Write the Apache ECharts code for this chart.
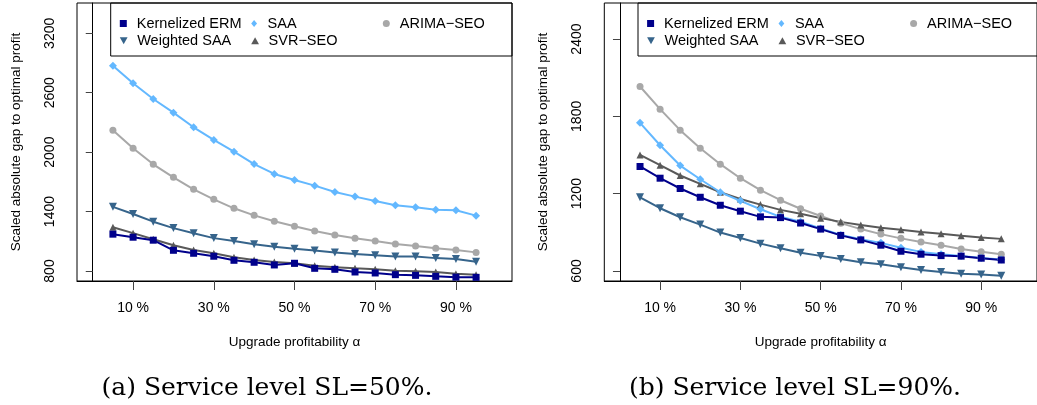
<!DOCTYPE html>
<html>
<head>
<meta charset="utf-8">
<script src="https://cdn.jsdelivr.net/npm/echarts@6/dist/echarts.min.js"></script>
<style>
html,body{margin:0;padding:0;background:#fff;}
#c{width:1037px;height:405px;}
</style>
</head>
<body>
<div id="c"></div>
<script>
// ---- data ----
const alphas = [5,10,15,20,25,30,35,40,45,50,55,60,65,70,75,80,85,90,95];
const xTicks = [10,30,50,70,90];

// Panel (a): Service level SL=50%
const kermA  = [1172,1141,1111,1009,979,949,908,888,861,878,827,817,790,780,763,756,746,738,736];
const saaA   = [2873,2695,2537,2399,2251,2123,2005,1880,1780,1719,1662,1598,1551,1507,1463,1443,1419,1413,1359];
const wsaaA  = [1448,1376,1298,1233,1181,1132,1102,1071,1046,1025,1006,987,972,958,947,947,930,922,893];
const svrA   = [1242,1182,1121,1060,1013,979,939,911,891,878,854,838,827,817,803,797,790,773,763];
const arimaA = [2220,2039,1877,1746,1625,1524,1433,1362,1302,1251,1204,1164,1130,1103,1073,1052,1029,1012,988];
const yTicksA = [800,1400,2000,2600,3200];

// Panel (b): Service level SL=90%
const kermB  = [1411,1320,1240,1172,1110,1064,1020,1014,972,925,876,841,800,753,730,719,715,699,685];
const saaB   = [1750,1576,1418,1312,1211,1144,1079,1020,982,930,880,847,818,780,748,730,717,701,689];
const wsaaB  = [1172,1087,1017,960,898,856,812,776,741,717,693,667,652,628,608,592,579,572,563];
const svrB   = [1501,1421,1341,1276,1211,1159,1115,1074,1044,1010,981,956,935,919,903,888,873,860,849];
const arimaB = [2032,1856,1693,1553,1429,1320,1227,1149,1083,1027,971,925,886,853,824,800,771,749,730];
const yTicksB = [600,1200,1800,2400];

const captionA = '(a) Service level SL=50%.';
const captionB = '(b) Service level SL=90%.';
const xName = 'Upgrade profitability \u03b1';
const yName = 'Scaled absolute gap to optimal profit';

// ---- styles ----
const FONT = "'Liberation Sans', Arial, Helvetica, sans-serif";
const downTri = 'path://M0,0 L10,0 L5,9 Z';
const styles = {
  'Kernelized ERM': {color:'#00008B', symbol:'rect', size:7, icon:'path://M0,0 L10,0 L10,10 L0,10 Z'},
  'SAA': {color:'#63B8FF', symbol:'diamond', size:8, icon:'path://M5,0 L10,6 L5,12 L0,6 Z'},
  'ARIMA\u2212SEO': {color:'#A8A8A8', symbol:'circle', size:7, icon:'path://M5,0 A5,5 0 1,1 5,10 A5,5 0 1,1 5,0 Z'},
  'Weighted SAA': {color:'#36648B', symbol:downTri, size:8, icon:downTri},
  'SVR\u2212SEO': {color:'#595959', symbol:'triangle', size:7, icon:'path://M5,0 L10,9 L0,9 Z'}
};

function pairs(vals){ return alphas.map((a,i)=>[a, vals[i]]); }

const panels = [
  {left:77, yMin:699, yMax:3506, yTicks:yTicksA, data:{'Kernelized ERM':kermA,'SAA':saaA,'ARIMA\u2212SEO':arimaA,'Weighted SAA':wsaaA,'SVR\u2212SEO':svrA}, caption:captionA, capX:267},
  {left:604.3, yMin:522, yMax:2680, yTicks:yTicksB, data:{'Kernelized ERM':kermB,'SAA':saaB,'ARIMA\u2212SEO':arimaB,'Weighted SAA':wsaaB,'SVR\u2212SEO':svrB}, caption:captionB, capX:795}
];

const grids=[], xAxes=[], yAxes=[], series=[], legends=[], graphics=[];
const drawOrder = ['ARIMA\u2212SEO','SVR\u2212SEO','Weighted SAA','SAA','Kernelized ERM'];
const legendLayout = [['Kernelized ERM',0,0],['SAA',1,0],['ARIMA\u2212SEO',2,0],['Weighted SAA',0,1],['SVR\u2212SEO',1,1]];
const colOffsets = [42.8, 174.2, 305.8];
const rowTops = [16, 33.3];

panels.forEach((p, k) => {
  grids.push({left:p.left, top:3, width:435, height:278, show:true, borderColor:'#000', borderWidth:1, backgroundColor:'transparent'});
  xAxes.push({
    type:'value', gridIndex:k, min:-3.9, max:103.9,
    axisLine:{show:true, lineStyle:{color:'#000', width:1}},
    axisTick:{show:true, inside:false, length:9, lineStyle:{color:'#444'}, customValues:xTicks},
    axisLabel:{show:true, margin:20, fontFamily:FONT, fontSize:14, color:'#000', customValues:xTicks, formatter:v=>v+' %'},
    splitLine:{show:false},
    name:xName, nameLocation:'middle', nameGap:54,
    nameTextStyle:{fontFamily:FONT, fontSize:13.5, color:'#000'}
  });
  yAxes.push({
    type:'value', gridIndex:k, min:p.yMin, max:p.yMax,
    axisLine:{show:true, lineStyle:{color:'#000', width:1}},
    axisTick:{show:true, inside:false, length:7, lineStyle:{color:'#444'}, customValues:p.yTicks},
    axisLabel:{show:true, rotate:90, margin:20, fontFamily:FONT, fontSize:14, color:'#000', customValues:p.yTicks, formatter:v=>String(v)},
    splitLine:{show:false},
    name:yName, nameLocation:'middle', nameGap:54,
    nameTextStyle:{fontFamily:FONT, fontSize:13.5, color:'#000'}
  });
  drawOrder.forEach(n => {
    const s = styles[n];
    series.push({
      name:n, type:'line', xAxisIndex:k, yAxisIndex:k,
      data:pairs(p.data[n]),
      symbol:s.symbol, symbolSize:s.size, showSymbol:true,
      itemStyle:{color:s.color}, lineStyle:{color:s.color, width:2},
      animation:false, silent:true
    });
  });
  legendLayout.forEach(([n,col,row]) => {
    const s = styles[n];
    legends.push({
      data:[{name:n, icon:s.icon}],
      left:p.left + colOffsets[col], top:rowTops[row],
      itemWidth:17, itemHeight:7, itemGap:0, padding:0,
      symbolKeepAspect:true,
      selectedMode:false,
      textStyle:{fontFamily:FONT, fontSize:14.5, color:'#000'}
    });
  });
  graphics.push({type:'rect', shape:{x:p.left+33.7, y:3, width:435-33.7, height:53}, style:{fill:'#fff', stroke:'#000', lineWidth:1}, z:-1});
  graphics.push({type:'text', x:p.capX, y:388, style:{text:p.caption, font:"25px 'DejaVu Serif', serif", fill:'#000', textAlign:'center', textVerticalAlign:'middle'}});
});

const chart = echarts.init(document.getElementById('c'), null, {renderer:'canvas'});
chart.setOption({
  animation:false,
  backgroundColor:'#fff',
  grid:grids, xAxis:xAxes, yAxis:yAxes, series:series, legend:legends, graphic:graphics
});
</script>
</body>
</html>
